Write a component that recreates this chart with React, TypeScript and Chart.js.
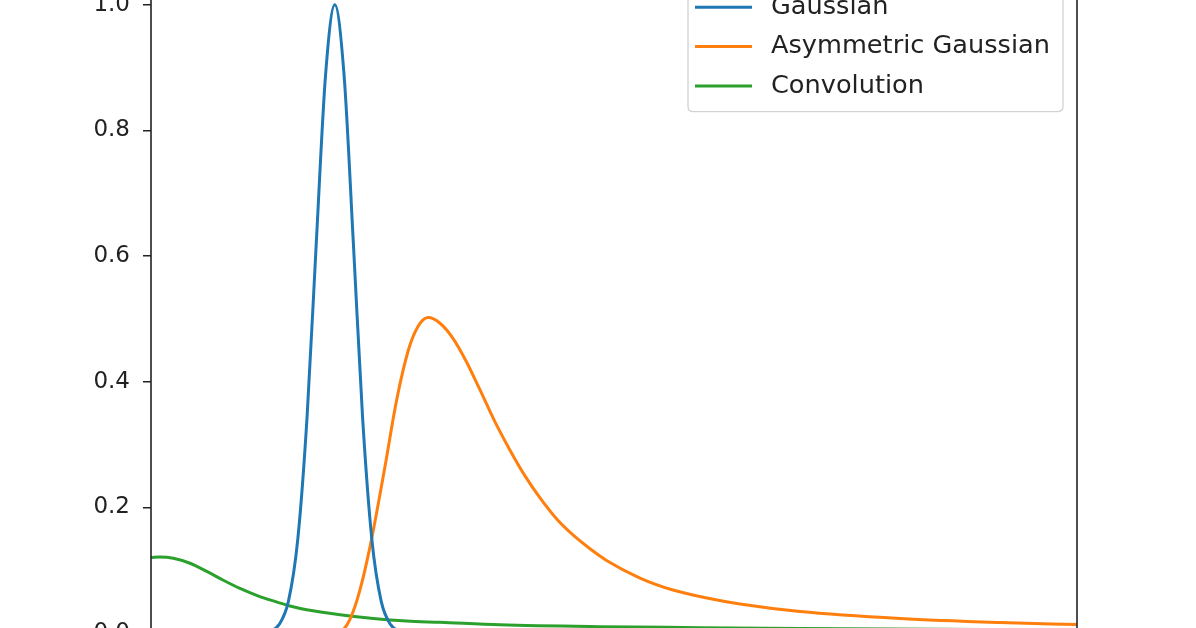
import React, { useEffect, useRef } from "react";
import { Chart, registerables } from "chart.js";

Chart.register(...registerables);

// ---- data ----
const gaussianX = [0, 1.0, 1.185, 1.285, 1.385, 1.485, 1.585, 1.685, 1.785, 1.885, 1.985, 2.085, 2.185, 2.285, 2.385, 2.485, 2.585, 2.685, 2.785, 2.9, 10];
const gaussianY = [0, 0, 0.0005, 0.0029, 0.0138, 0.0511, 0.149, 0.3427, 0.6213, 0.8879, 1.0, 0.8879, 0.6213, 0.3427, 0.149, 0.0511, 0.0138, 0.0029, 0.0005, 0, 0];

const asymX = [0, 2.0, 2.08, 2.15, 2.25, 2.365, 2.527, 2.653, 2.779, 2.88, 2.991, 3.121, 3.261, 3.402, 3.553, 3.715, 3.877, 4.039, 4.201, 4.384, 4.557, 4.741, 4.924, 5.281, 5.637, 6.004, 6.361, 7.009, 8.089, 9.168, 10.0];
const asymY = [0, 0, 0.006, 0.022, 0.065, 0.137, 0.265, 0.371, 0.45, 0.487, 0.502, 0.493, 0.469, 0.433, 0.387, 0.336, 0.291, 0.25, 0.215, 0.181, 0.156, 0.134, 0.115, 0.0875, 0.0684, 0.0557, 0.0461, 0.0342, 0.0231, 0.0167, 0.0135];

const convX = [0, 0.097, 0.241, 0.421, 0.602, 0.781, 0.961, 1.141, 1.321, 1.501, 1.681, 2.041, 2.401, 2.761, 3.121, 3.769, 4.849, 5.929, 7.009, 10.0];
const convY = [0.12, 0.121, 0.119, 0.111, 0.098, 0.084, 0.071, 0.06, 0.051, 0.043, 0.037, 0.029, 0.023, 0.019, 0.017, 0.013, 0.01, 0.0085, 0.007, 0.005];

const seriesLabels = ["Gaussian", "Asymmetric Gaussian", "Convolution"];
const seriesColors = ["#1f77b4", "#ff7f0e", "#2ca02c"];
const yTicks = [0, 0.2, 0.4, 0.6, 0.8, 1.0];
const xRange = [0, 10];
const yRange = [-0.05, 1.05];

// ---- layout ----
const W = 1196;
const H = 760;
const OFFSET = 60;
const FONT = "'DejaVu Sans', sans-serif";

const toPoints = (xs: number[], ys: number[]) => xs.map((x, i) => ({ x, y: ys[i] }));

const frameAndLegend = {
  id: "frameAndLegend",
  afterDatasetsDraw(chart: any) {
    const { ctx, chartArea } = chart;
    ctx.save();
    // axes frame (spines)
    ctx.strokeStyle = "#222";
    ctx.lineWidth = 1.6;
    ctx.strokeRect(
      chartArea.left,
      chartArea.top,
      chartArea.right - chartArea.left,
      chartArea.bottom - chartArea.top
    );

    // legend box (upper right)
    const boxR = chartArea.right - 14;
    const boxL = boxR - 375;
    const boxT = chartArea.top + 8.3;
    const rowH = 39.3;
    const firstRow = boxT + 25.7;
    const n = chart.data.datasets.length;
    const boxB = firstRow + (n - 1) * rowH + 25.7;
    const r = 5;
    ctx.beginPath();
    ctx.moveTo(boxL + r, boxT);
    ctx.lineTo(boxR - r, boxT);
    ctx.quadraticCurveTo(boxR, boxT, boxR, boxT + r);
    ctx.lineTo(boxR, boxB - r);
    ctx.quadraticCurveTo(boxR, boxB, boxR - r, boxB);
    ctx.lineTo(boxL + r, boxB);
    ctx.quadraticCurveTo(boxL, boxB, boxL, boxB - r);
    ctx.lineTo(boxL, boxT + r);
    ctx.quadraticCurveTo(boxL, boxT, boxL + r, boxT);
    ctx.closePath();
    ctx.fillStyle = "rgba(255,255,255,0.85)";
    ctx.fill();
    ctx.strokeStyle = "#d2d2d2";
    ctx.lineWidth = 1.3;
    ctx.stroke();

    ctx.font = `25.6px ${FONT}`;
    ctx.textBaseline = "middle";
    ctx.textAlign = "left";
    chart.data.datasets.forEach((ds: any, i: number) => {
      const y = firstRow + i * rowH;
      ctx.strokeStyle = ds.borderColor;
      ctx.lineWidth = 3;
      ctx.beginPath();
      ctx.moveTo(boxL + 7, y);
      ctx.lineTo(boxL + 64, y);
      ctx.stroke();
      ctx.fillStyle = "#222";
      ctx.fillText(ds.label, boxL + 83, y);
    });
    ctx.restore();
  },
};

export default function App() {
  const canvasRef = useRef<HTMLCanvasElement | null>(null);

  useEffect(() => {
    if (!canvasRef.current) return;
    const series = [
      toPoints(gaussianX, gaussianY),
      toPoints(asymX, asymY),
      toPoints(convX, convY),
    ];
    const chart = new Chart(canvasRef.current, {
      type: "line",
      data: {
        datasets: series.map((pts, i) => ({
          label: seriesLabels[i],
          data: pts,
          borderColor: seriesColors[i],
          backgroundColor: seriesColors[i],
          borderWidth: 3,
          pointRadius: 0,
          fill: false,
          cubicInterpolationMode: "monotone" as const,
        })),
      },
      options: {
        responsive: false,
        animation: false,
        devicePixelRatio: 1,
        layout: { padding: { top: OFFSET - 26.7, right: W - 1077, bottom: 0, left: 0 } },
        plugins: {
          legend: { display: false },
          tooltip: { enabled: false },
        },
        scales: {
          x: {
            type: "linear",
            min: xRange[0],
            max: xRange[1],
            grid: { display: false },
            border: { display: false },
            ticks: { display: false },
            afterFit: (s: any) => {
              s.height = H - (664.4 + OFFSET);
            },
          },
          y: {
            type: "linear",
            min: yRange[0],
            max: yRange[1],
            afterBuildTicks: (s: any) => {
              s.ticks = yTicks.map((v) => ({ value: v }));
            },
            grid: {
              drawOnChartArea: false,
              drawTicks: true,
              tickLength: 8,
              color: "#222",
              lineWidth: 1.5,
            },
            border: { display: false },
            ticks: {
              padding: 13,
              color: "#222",
              font: { family: FONT, size: 23 },
              callback: (v: any) => Number(v).toFixed(1),
            },
            afterFit: (s: any) => {
              s.width = 151;
            },
          },
        },
      },
      plugins: [frameAndLegend],
    });
    return () => chart.destroy();
  }, []);

  return (
    <div
      style={{
        position: "fixed",
        left: 0,
        top: 0,
        width: W,
        height: 628,
        overflow: "hidden",
        background: "#fff",
      }}
    >
      <canvas
        ref={canvasRef}
        width={W}
        height={H}
        style={{ position: "absolute", left: 0, top: -OFFSET, width: W, height: H }}
      />
    </div>
  );
}
